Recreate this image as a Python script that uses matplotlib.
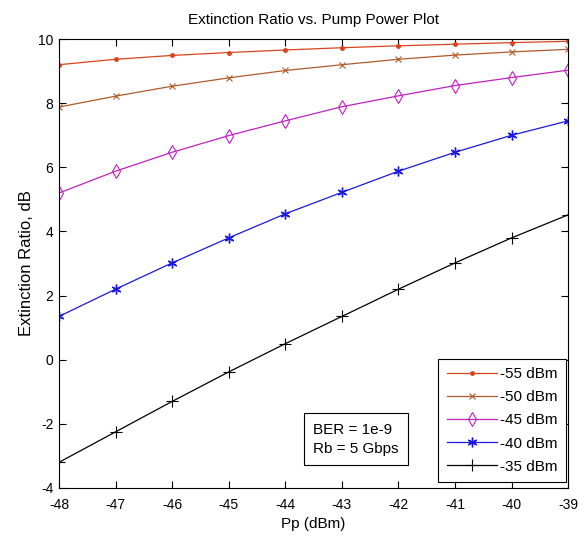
import numpy as np
import matplotlib
matplotlib.use("Agg")
import matplotlib.pyplot as plt

pp = [-48, -47, -46, -45, -44, -43, -42, -41, -40, -39]
er_55 = [9.20, 9.37, 9.49, 9.58, 9.66, 9.73, 9.79, 9.84, 9.89, 9.93]
er_50 = [7.88, 8.22, 8.53, 8.79, 9.02, 9.20, 9.37, 9.50, 9.60, 9.68]
er_45 = [5.20, 5.88, 6.47, 6.99, 7.45, 7.89, 8.23, 8.55, 8.80, 9.03]
er_40 = [1.35, 2.20, 3.02, 3.80, 4.55, 5.22, 5.88, 6.47, 7.00, 7.45]
er_35 = [-3.20, -2.25, -1.30, -0.38, 0.50, 1.35, 2.20, 3.02, 3.80, 4.52]
labels = ["-55 dBm", "-50 dBm", "-45 dBm", "-40 dBm", "-35 dBm"]

plt.rcParams["font.family"] = ["Liberation Sans", "DejaVu Sans"]
plt.rcParams["font.size"] = 10
plt.rcParams["axes.unicode_minus"] = False

fig = plt.figure(figsize=(5.84, 5.36), dpi=100)
ax = fig.add_axes([0.101, 0.0896, 0.872, 0.8375])

ax.plot(pp, er_55, "-", marker=".", color="#d9441c", lw=0.9, ms=5, label=labels[0])
ax.plot(pp, er_50, "-", marker="x", color="#b05a2a", lw=0.9, ms=4, mew=0.8, label=labels[1])
ax.plot(pp, er_45, "-", marker="d", color="#c020c0", lw=0.9, ms=7, mfc="none", mew=0.8, label=labels[2])
ax.plot(pp, er_40, "-", marker=(6, 2, 0), color="#1a1adf", lw=0.9, ms=7, mew=1.0, label=labels[3])
ax.plot(pp, er_35, "-", marker="+", color="black", lw=0.9, ms=8, mew=0.8, label=labels[4])

ax.set_xlim(-48, -39)
ax.set_ylim(-4, 10)
ax.set_xticks(pp)
ax.set_yticks(range(-4, 11, 2))
ax.tick_params(direction="in", length=5, width=0.8, top=True, right=True)
ax.tick_params(axis="x", pad=7)
ax.tick_params(axis="y", pad=4)
for s in ax.spines.values():
    s.set_linewidth(0.8)

ax.set_title("Extinction Ratio vs. Pump Power Plot", fontsize=11, pad=11)
ax.set_xlabel("Pp (dBm)", fontsize=11, labelpad=4)
ax.set_ylabel("Extinction Ratio, dB", fontsize=12, labelpad=3)

leg = ax.legend(loc="lower right", bbox_to_anchor=(0.996, 0.013), fancybox=False,
                framealpha=1, edgecolor="black", handlelength=3.3, borderaxespad=0,
                borderpad=0.55, labelspacing=0.6, handletextpad=0.2, fontsize=11)
leg.get_frame().set_linewidth(0.8)

ax.text(0.499, 0.109, "BER = 1e-9\nRb = 5 Gbps", transform=ax.transAxes, fontsize=11,
        va="center", ha="left", linespacing=1.45,
        bbox=dict(boxstyle="square,pad=0.6", fc="white", ec="black", lw=0.8))

fig.savefig("out.png", dpi=100)
